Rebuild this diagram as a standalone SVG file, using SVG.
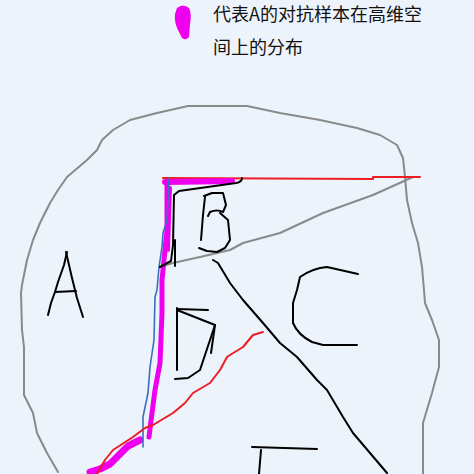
<svg xmlns="http://www.w3.org/2000/svg" width="474" height="474" viewBox="0 0 474 474">
<style>
.s{fill:none;stroke-linecap:round;stroke-linejoin:round}
.g{stroke:#8a8a8a;stroke-width:2}
.k{stroke:#000;stroke-width:2}
.r{stroke:#ee1c24;stroke-width:2}
.b{stroke:#3a6fbf;stroke-width:1.6}
.m{stroke:#ee00ee}
.t{font-family:"Noto Sans CJK SC","Noto Sans",sans-serif;font-size:18px;fill:#111}
</style>
<rect width="474" height="474" fill="#edf3fb"/>
<g id="legend">
<path d="M177,8 Q183,3 189,8 Q192,14 190,24 L189,37 Q186,41 182,38 L178,30 Q174,22 175,14 Z" fill="#ee00ee"/>
<text class="t" x="213" y="21">代表A的对抗样本在高维空</text>
<text class="t" x="213" y="54">间上的分布</text>
</g>
<g id="outline">
<path class="s g" d="M58,472 L47,453 L37,433 L33,413 L24,395 L24,347 L22,330 L21,293 L22,285 L27,260 L33,240 L40,223 L50,203 L58,190 L67,177 L87,160 L97,150 L102,140 L113,130 L130,120 L157,113 L188,106 L247,106 L280,113 L320,120 L357,128 L380,135 L397,145 L403,158 L405,177 L407,200 L412,223 L418,243 L422,267 L424,290 L425,303 L432,320 L439,340 L439,367 L432,393 L423,423 L423,474"/>
</g>
<g id="wedge">
<path class="s g" d="M413,177 L373,195 L323,213 L280,233 L243,243 L230,250 L200,257 L173,263 L163,266"/>
<path class="s r" d="M163,178 L373,179 L373,177 L420,177"/>
</g>
<g id="adversarial">
<path class="s m" stroke-width="6" d="M165,182 L232,181"/>
<path class="s m" stroke-width="5" d="M167,184 L167,230 L165,250 L162,280 L162,313 L160,363 L155,390 L152,413 L149,437"/>
<path class="s m" stroke-width="7" d="M140,440 L128,446 L118,456 L110,464 L100,469 L90,472"/>
<path class="s m" stroke-width="4" d="M170,188 L168,250"/>
</g>
<g id="blue-line">
<path class="s b" d="M169,178 L168,200 L167,220 L163,233 L162,247 L159,267 L157,290 L155,297 L154,340 L150,367 L148,393 L143,417 L143,447"/>
</g>
<g id="red-curve">
<path class="s r" d="M263,332 L253,335 L243,347 L230,355 L227,357 L220,370 L210,383 L193,393 L185,403 L173,413 L153,425 L145,428 L133,437 L113,450 L105,460 L97,474"/>
</g>
<g id="boundary">
<path class="s k" d="M160,267 L171,261 L173,245 L174,195 L179,191 L236,183 Q242,182 242,178"/>
<path class="s k" d="M175,266 L175,240"/>
<path class="s k" d="M213,260 L218,263 L230,283 L243,300 L263,323 L280,343 L297,357 L317,380 L327,390 L343,417 L353,433 L370,453 L387,473"/>
</g>
<g id="label-A">
<path class="s k" d="M67,252 L64,265 L58,282 L55,292 L51,303 L48,315"/>
<path class="s k" d="M66,252 L72,278 L77,298 L83,317"/>
<path class="s k" d="M55,292 L76,291"/>
</g>
<g id="label-B">
<path class="s k" d="M205,197 L203,215 L201,240"/>
<path class="s k" d="M204,196 L212,193 L223,193 L226,205 L223,212 Q217,209 210,212 L208,216"/>
<path class="s k" d="M220,213 L228,220 L230,240 L225,248 L217,252 L207,251 L199,248"/>
</g>
<g id="label-C">
<path class="s k" d="M358,274 L327,267 Q313,268 300,277 L297,290 L293,303 L293,323 Q298,335 312,342 L323,345 L357,345"/>
</g>
<g id="label-D">
<path class="s k" d="M177,308 L177,370"/>
<path class="s k" d="M177,309 L208,310"/>
<path class="s k" d="M177,310 L215,325 L200,370 L188,378 L175,379"/>
<path class="s k" d="M215,325 L211,353"/>
</g>
<g id="label-E">
<path class="s k" d="M252,447 L317,449"/>
<path class="s k" d="M261,450 L259,474"/>
</g>
</svg>
